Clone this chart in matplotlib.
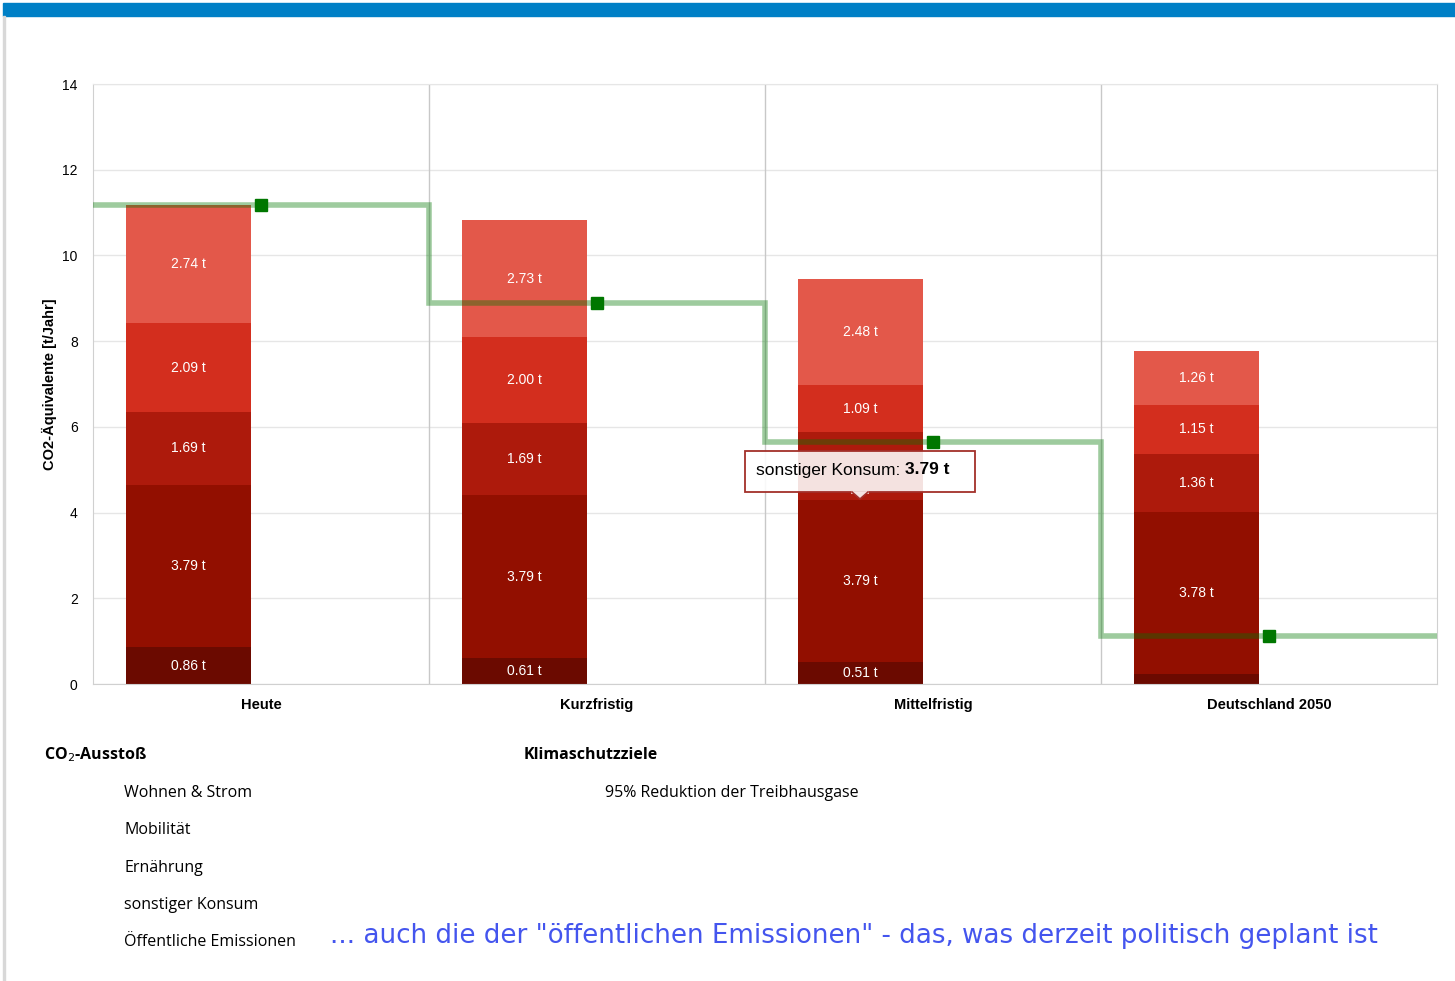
import numpy as np
import matplotlib
matplotlib.use("Agg")
import matplotlib.pyplot as plt
from matplotlib.patches import Rectangle, Polygon
from matplotlib.lines import Line2D

# Daten
categories = ["Heute", "Kurzfristig", "Mittelfristig", "Deutschland 2050"]
oeffentlich = [0.86, 0.61, 0.51, 0.23]
sonstiger_konsum = [3.79, 3.79, 3.79, 3.78]
ernaehrung = [1.69, 1.69, 1.58, 1.36]
mobilitaet = [2.09, 2.00, 1.09, 1.15]
wohnen_strom = [2.74, 2.73, 2.48, 1.26]
klimaziel = [11.17, 8.88, 5.64, 1.12]

series = [
    ("Öffentliche Emissionen", oeffentlich, "#6B0A00"),
    ("sonstiger Konsum", sonstiger_konsum, "#920F00"),
    ("Ernährung", ernaehrung, "#AD1A0C"),
    ("Mobilität", mobilitaet, "#D32E1E"),
    ("Wohnen & Strom", wohnen_strom, "#E3584A"),
]
legend_items = ["Wohnen & Strom", "Mobilität", "Ernährung", "sonstiger Konsum", "Öffentliche Emissionen"]

W, H = 1455, 981
fig = plt.figure(figsize=(W / 100, H / 100), dpi=100)

# blauer Balken oben + linker Rand
fig.patches.append(Rectangle((3 / W, 1 - 16 / H), 1, 13 / H, transform=fig.transFigure,
                             color="#0080C6", zorder=0))
fig.patches.append(Rectangle((3 / W, 0), 1.5 / W, 1 - 16 / H, transform=fig.transFigure,
                             color="#d8d8d8", zorder=0))

ax = fig.add_axes([93 / W, 1 - 684 / H, (1437 - 93) / W, (684 - 84) / H])

x = np.arange(len(categories))
offset = -0.217
width = 0.372
bottom = np.zeros(len(categories))
for name, vals, col in series:
    vals = np.array(vals)
    ax.bar(x + offset, vals, width, bottom=bottom, color=col, zorder=2, linewidth=0)
    for i, v in enumerate(vals):
        # kleine Segmente ohne Label, Ernährung Mittelfristig liegt unter dem Tooltip
        if v > 0.3 and not (name == "Ernährung" and i == 2):
            ax.text(x[i] + offset, bottom[i] + v / 2, f"{v:.2f} t", ha="center", va="center",
                    color="white", fontsize=10, family="Liberation Sans", zorder=3)
    bottom += vals

# Klimaschutzziel als Stufenlinie
xs = np.concatenate([[-0.5], x, [3.5]])
ys = np.concatenate([[klimaziel[0]], klimaziel, [klimaziel[-1]]])
ax.step(xs, ys, where="mid", color="#007700", alpha=0.38, lw=4, zorder=4, solid_joinstyle="miter")
ax.plot(x, klimaziel, ls="none", marker="s", ms=8, color="#007700", zorder=5)

ax.set_xlim(-0.5, 3.5)
ax.set_ylim(0, 14)
ax.set_yticks(np.arange(0, 15, 2))
ax.set_xticks(x)
ax.set_xticklabels(categories, fontweight="bold", fontsize=10.5, family="Liberation Sans")
for lab in ax.get_yticklabels():
    lab.set_family("Liberation Sans")
    lab.set_fontsize(10)
ax.tick_params(axis="x", length=0, pad=10)
ax.tick_params(axis="y", length=0, pad=11)
ax.grid(axis="y", color="#e6e6e6", lw=1, zorder=0)
for b in [0.5, 1.5, 2.5]:
    ax.axvline(b, color="#c8c8c8", lw=1, zorder=1)
for s in ax.spines.values():
    s.set_color("#d0d0d0")
ax.spines["top"].set_color("#e6e6e6")
ax.set_ylabel("CO2-Äquivalente [t/Jahr]", fontweight="bold", fontsize=10.5,
              family="Liberation Sans", labelpad=4)
ax.set_axisbelow(True)

# Tooltip
tx0, tx1 = 745 / W, 975 / W
ty0, ty1 = 1 - 492 / H, 1 - 451 / H
fig.patches.append(Rectangle((tx0, ty0), tx1 - tx0, ty1 - ty0, transform=fig.transFigure,
                             facecolor="white", alpha=0.88, edgecolor="none", zorder=10))
fig.patches.append(Rectangle((tx0, ty0), tx1 - tx0, ty1 - ty0, transform=fig.transFigure,
                             facecolor="none", edgecolor="#A3302A", lw=1.3, zorder=11))
tip = 1 - 499 / H
fig.patches.append(Polygon([[852 / W, ty0], [868 / W, ty0], [860 / W, tip]], closed=True,
                           transform=fig.transFigure, facecolor="white", alpha=0.88,
                           edgecolor="none", zorder=10))
fig.lines.append(Line2D([852 / W, 853 / W, 867 / W], [ty0, ty0, ty0], transform=fig.transFigure,
                        color="#f5e4e3", lw=2, zorder=12))
fig.lines.append(Line2D([852 / W, 860 / W, 868 / W], [ty0, tip, ty0], transform=fig.transFigure,
                        color="#A3302A", lw=1.2, zorder=13))
t1 = fig.text(756 / W, 1 - 470 / H, "sonstiger Konsum: ", fontsize=12.5, family="Liberation Sans",
              va="center", ha="left", zorder=14)
fig.canvas.draw()
bb = t1.get_window_extent()
fig.text(bb.x1 / W, 1 - 470 / H, "3.79 t", fontsize=12.5, family="Liberation Sans",
         fontweight="bold", va="center", ha="left", zorder=14)

# Legende
lf = "Open Sans"
fig.text(44 / W, 1 - 755 / H, "CO$_2$-Ausstoß", fontsize=11.5, fontweight="bold", family=lf, va="center")
for k, item in enumerate(legend_items):
    fig.text(124 / W, 1 - (793 + 37.3 * k) / H, item, fontsize=11.5, family=lf, va="center")
fig.text(524 / W, 1 - 755 / H, "Klimaschutzziele", fontsize=11.5, fontweight="bold", family=lf, va="center")
fig.text(605 / W, 1 - 793 / H, "95% Reduktion der Treibhausgase", fontsize=11.5, family=lf, va="center")

fig.text(330 / W, 1 - 936 / H,
         '... auch die der "öffentlichen Emissionen" - das, was derzeit politisch geplant ist',
         fontsize=18.8, color="#4455EE", family="DejaVu Sans", va="center")

fig.savefig("out.png", dpi=100)
